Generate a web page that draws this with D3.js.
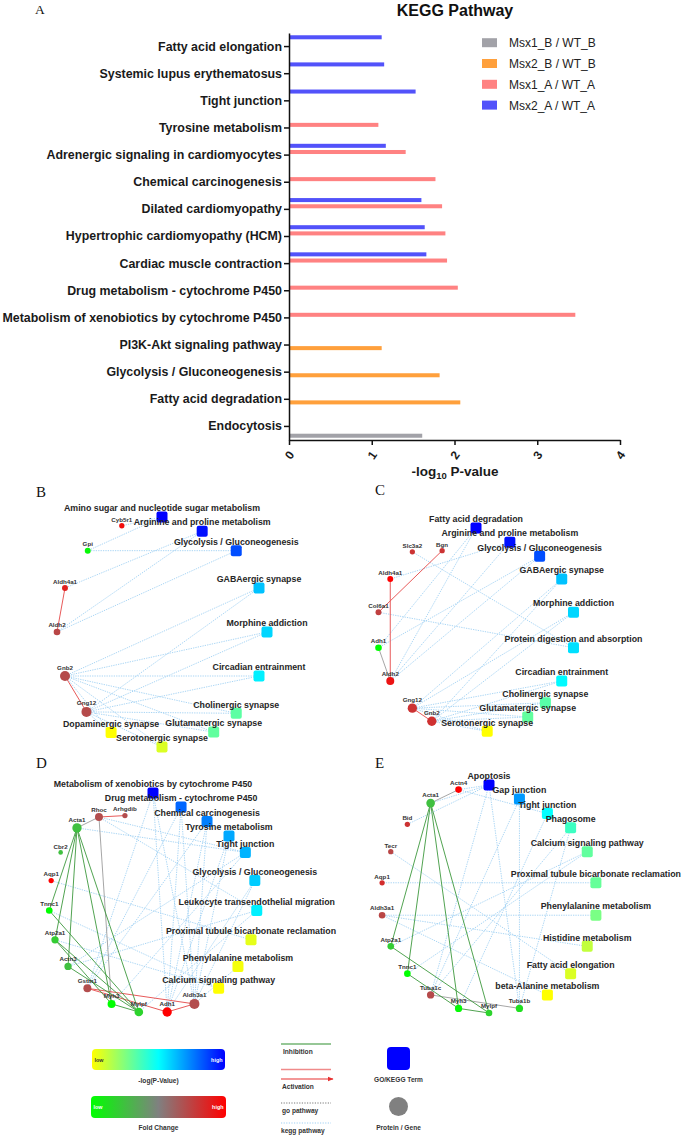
<!DOCTYPE html>
<html>
<head>
<meta charset="utf-8">
<script src="https://cdn.jsdelivr.net/npm/d3@7"></script>
<style>
body { margin: 0; background: #fff; }
svg { display: block; font-family: "Liberation Sans", Arial, sans-serif; }
</style>
</head>
<body>
<svg id="fig" width="685" height="1141"></svg>
<script>
// ---------- panel A : KEGG bar chart ----------
var categories = ["Fatty acid elongation", "Systemic lupus erythematosus", "Tight junction",
  "Tyrosine metabolism", "Adrenergic signaling in cardiomyocytes", "Chemical carcinogenesis",
  "Dilated cardiomyopathy", "Hypertrophic cardiomyopathy (HCM)", "Cardiac muscle contraction",
  "Drug metabolism - cytochrome P450", "Metabolism of xenobiotics by cytochrome P450",
  "PI3K-Akt signaling pathway", "Glycolysis / Gluconeogenesis", "Fatty acid degradation", "Endocytosis"];
var seriesNames = ["Msx1_B / WT_B", "Msx2_B / WT_B", "Msx1_A / WT_A", "Msx2_A / WT_A"];
var msx1B = [null, null, null, null, null, null, null, null, null, null, null, null, null, null, 1.61];
var msx2B = [null, null, null, null, null, null, null, null, null, null, null, 1.12, 1.82, 2.07, null];
var msx1A = [null, null, null, 1.08, 1.41, 1.77, 1.85, 1.89, 1.91, 2.04, 3.46, null, null, null, null];
var msx2A = [1.12, 1.15, 1.53, null, 1.17, null, 1.60, 1.64, 1.66, null, null, null, null, null, null];
var xTicks = [0, 1, 2, 3, 4];

// ---------- panel B ----------
var bTerms = ["Amino sugar and nucleotide sugar metabolism", "Arginine and proline metabolism",
  "Glycolysis / Gluconeogenesis", "GABAergic synapse", "Morphine addiction", "Circadian entrainment",
  "Cholinergic synapse", "Glutamatergic synapse", "Serotonergic synapse", "Dopaminergic synapse"];
var bTermScore = [1, 0.97, 0.85, 0.62, 0.58, 0.53, 0.32, 0.31, 0.07, 0];
var bGenes = ["Gng12", "Gnb2", "Aldh2", "Aldh4a1", "Gpi", "Cyb5r1"];
var bGeneFC = [0.42, 0.42, 0.45, 0.75, -0.95, 0.9];
var bKegg = [
  ["Amino sugar and nucleotide sugar metabolism", ["Cyb5r1", "Gpi"]],
  ["Arginine and proline metabolism", ["Aldh4a1", "Aldh2"]],
  ["Glycolysis / Gluconeogenesis", ["Gpi", "Aldh2"]],
  ["GABAergic synapse", ["Gnb2", "Gng12"]],
  ["Morphine addiction", ["Gnb2", "Gng12"]],
  ["Circadian entrainment", ["Gnb2", "Gng12"]],
  ["Cholinergic synapse", ["Gnb2", "Gng12"]],
  ["Glutamatergic synapse", ["Gnb2", "Gng12"]],
  ["Serotonergic synapse", ["Gnb2", "Gng12"]],
  ["Dopaminergic synapse", ["Gnb2", "Gng12"]]
];
var bActivation = [["Aldh4a1", "Aldh2"], ["Gnb2", "Gng12"]];
var bInhibition = [];
var bOther = [];

// ---------- panel C ----------
var cTerms = ["Fatty acid degradation", "Arginine and proline metabolism", "Glycolysis / Gluconeogenesis",
  "GABAergic synapse", "Morphine addiction", "Protein digestion and absorption", "Circadian entrainment",
  "Cholinergic synapse", "Glutamatergic synapse", "Serotonergic synapse"];
var cTermScore = [1, 0.97, 0.85, 0.62, 0.58, 0.56, 0.51, 0.33, 0.31, 0];
var cGenes = ["Gnb2", "Gng12", "Aldh2", "Adh1", "Col6a1", "Aldh4a1", "Slc3a2", "Bgn"];
var cGeneFC = [0.62, 0.6, 0.85, -1, 0.5, 1, 0.6, 0.6];
var cKegg = [
  ["Fatty acid degradation", ["Adh1", "Aldh2"]],
  ["Arginine and proline metabolism", ["Aldh4a1", "Aldh2"]],
  ["Glycolysis / Gluconeogenesis", ["Adh1", "Aldh2"]],
  ["GABAergic synapse", ["Gnb2", "Gng12"]],
  ["Morphine addiction", ["Gnb2", "Gng12"]],
  ["Protein digestion and absorption", ["Col6a1", "Slc3a2"]],
  ["Circadian entrainment", ["Gnb2", "Gng12"]],
  ["Cholinergic synapse", ["Gnb2", "Gng12"]],
  ["Glutamatergic synapse", ["Gnb2", "Gng12"]],
  ["Serotonergic synapse", ["Gnb2", "Gng12"]]
];
var cActivation = [["Bgn", "Col6a1"], ["Aldh4a1", "Aldh2"], ["Gng12", "Gnb2"]];
var cInhibition = [];
var cOther = [["Adh1", "Aldh2"]];

// ---------- panel D ----------
var dTerms = ["Metabolism of xenobiotics by cytochrome P450", "Drug metabolism - cytochrome P450",
  "Chemical carcinogenesis", "Tyrosine metabolism", "Tight junction", "Glycolysis / Gluconeogenesis",
  "Leukocyte transendothelial migration", "Proximal tubule bicarbonate reclamation",
  "Phenylalanine metabolism", "Calcium signaling pathway"];
var dTermScore = [1, 0.8, 0.75, 0.67, 0.65, 0.6, 0.53, 0.05, 0.02, 0];
var dGenes = ["Aldh3a1", "Adh1", "Mylpf", "Myh3", "Gstm1", "Actn3", "Atp2a1", "Tnnc1", "Aqp1",
  "Cbr2", "Acta1", "Rhoc", "Arhgdib"];
var dGeneFC = [0.4, 1, -0.65, -1, 0.4, -0.5, -0.6, -1, 1, -0.5, -0.5, 0.4, 0.4];
var dKegg = [
  ["Metabolism of xenobiotics by cytochrome P450", ["Gstm1", "Adh1", "Aldh3a1"]],
  ["Drug metabolism - cytochrome P450", ["Gstm1", "Adh1", "Aldh3a1"]],
  ["Chemical carcinogenesis", ["Gstm1", "Adh1", "Aldh3a1"]],
  ["Tyrosine metabolism", ["Adh1", "Aldh3a1"]],
  ["Tight junction", ["Acta1", "Actn3", "Myh3", "Rhoc"]],
  ["Glycolysis / Gluconeogenesis", ["Adh1", "Aldh3a1"]],
  ["Leukocyte transendothelial migration", ["Actn3", "Rhoc", "Mylpf"]],
  ["Proximal tubule bicarbonate reclamation", ["Aqp1"]],
  ["Phenylalanine metabolism", ["Aldh3a1"]],
  ["Calcium signaling pathway", ["Atp2a1", "Tnnc1"]]
];
var dActivation = [["Rhoc", "Arhgdib"], ["Gstm1", "Aldh3a1"], ["Gstm1", "Adh1"], ["Adh1", "Aldh3a1"]];
var dInhibition = [["Acta1", "Tnnc1"], ["Acta1", "Atp2a1"], ["Acta1", "Actn3"], ["Acta1", "Myh3"],
  ["Acta1", "Mylpf"], ["Tnnc1", "Mylpf"], ["Atp2a1", "Myh3"], ["Atp2a1", "Mylpf"],
  ["Actn3", "Mylpf"], ["Myh3", "Mylpf"]];
var dOther = [["Rhoc", "Acta1"], ["Rhoc", "Myh3"]];

// ---------- panel E ----------
var eTerms = ["Apoptosis", "Gap junction", "Tight junction", "Phagosome", "Calcium signaling pathway",
  "Proximal tubule bicarbonate reclamation", "Phenylalanine metabolism", "Histidine metabolism",
  "Fatty acid elongation", "beta-Alanine metabolism"];
var eTermScore = [1, 0.7, 0.5, 0.38, 0.31, 0.3, 0.26, 0.12, 0.07, 0];
var eGenes = ["Tuba1b", "Mylpf", "Myh3", "Tuba1c", "Tnnc1", "Atp2a1", "Aldh3a1", "Aqp1", "Tecr",
  "Bid", "Acta1", "Actn4"];
var eGeneFC = [-0.75, -0.65, -0.95, 0.42, -1, -0.6, 0.45, 0.65, 0.45, 0.6, -0.5, 1];
var eKegg = [
  ["Apoptosis", ["Actn4", "Bid", "Acta1", "Tuba1c", "Tuba1b"]],
  ["Gap junction", ["Tuba1c", "Tuba1b"]],
  ["Tight junction", ["Actn4", "Myh3"]],
  ["Phagosome", ["Tuba1c", "Tuba1b"]],
  ["Calcium signaling pathway", ["Atp2a1", "Tnnc1"]],
  ["Proximal tubule bicarbonate reclamation", ["Aqp1"]],
  ["Phenylalanine metabolism", ["Aldh3a1"]],
  ["Histidine metabolism", ["Aldh3a1"]],
  ["Fatty acid elongation", ["Tecr"]],
  ["beta-Alanine metabolism", ["Aldh3a1"]]
];
var eActivation = [];
var eInhibition = [["Acta1", "Atp2a1"], ["Acta1", "Tnnc1"], ["Acta1", "Myh3"], ["Acta1", "Mylpf"],
  ["Atp2a1", "Mylpf"], ["Tnnc1", "Myh3"], ["Myh3", "Mylpf"]];
var eOther = [["Acta1", "Actn4"], ["Tuba1c", "Tuba1b"]];

var svg = d3.select('#fig');
var seriesColor = d3.scaleOrdinal().domain(seriesNames).range(['#a2a2a8', '#ffa03c', '#ff8282', '#5252fa']);

// ---------------- panel A ----------------
var x = d3.scaleLinear().domain([0, 4]).range([289, 620]);
var y = d3.scaleBand().domain(categories).range([33, 440]);
// inside each row the bars run Msx2_A, Msx1_A, Msx2_B, Msx1_B from top to bottom
var inner = d3.scaleBand().domain(seriesNames.slice().reverse()).range([-11.3, 11.3]).paddingInner(0.35);

var allSeries = [msx1B, msx2B, msx1A, msx2A];
var bars = [];
allSeries.forEach(function(vals, si) {
  vals.forEach(function(v, ci) {
    if (v != null) bars.push({cat: categories[ci], s: seriesNames[si], v: v});
  });
});

var gA = svg.append('g');
gA.selectAll('rect.bar').data(bars).join('rect')
  .attr('class', 'bar')
  .attr('x', x(0))
  .attr('y', function(d) { return y(d.cat) + y.bandwidth() / 2 + inner(d.s); })
  .attr('width', function(d) { return x(d.v) - x(0); })
  .attr('height', inner.bandwidth())
  .attr('fill', function(d) { return seriesColor(d.s); });

var yAxis = gA.append('g').attr('transform', 'translate(' + x(0) + ',0)')
  .call(d3.axisLeft(y).tickSize(5).tickSizeOuter(0).tickPadding(2));
yAxis.selectAll('text').style('font', "bold 12.4px 'Liberation Sans', Arial, sans-serif").attr('fill', '#1a1a1a');

var xAxis = gA.append('g').attr('transform', 'translate(0,' + y.range()[1] + ')')
  .call(d3.axisBottom(x).tickValues(xTicks).tickFormat(d3.format('d')).tickSize(5).tickSizeOuter(0));
xAxis.selectAll('text')
  .attr('y', 0).attr('dy', '0.35em')
  .attr('transform', 'translate(0,15) rotate(-55)')
  .style('text-anchor', 'middle')
  .style('font', "bold 12px 'Liberation Sans', Arial, sans-serif").attr('fill', '#1a1a1a');
gA.selectAll('.domain, .tick line').attr('stroke', '#111').attr('stroke-width', 1.5);

gA.append('text').attr('x', 455).attr('y', 16).attr('text-anchor', 'middle')
  .style('font', "bold 16px 'Liberation Sans', Arial, sans-serif").attr('fill', '#111').text('KEGG Pathway');

var xl = gA.append('text').attr('x', 455).attr('y', 476).attr('text-anchor', 'middle')
  .style('font', "bold 13.5px 'Liberation Sans', Arial, sans-serif").attr('fill', '#1a1a1a');
xl.append('tspan').text('-log');
xl.append('tspan').attr('dy', 3).style('font-size', '9.5px').text('10');
xl.append('tspan').attr('dy', -3).text(' P-value');

var leg = gA.selectAll('g.leg').data(seriesNames).join('g')
  .attr('class', 'leg')
  .attr('transform', function(d, i) { return 'translate(482,' + (42.7 + i * 20.8) + ')'; });
leg.append('rect').attr('x', 0).attr('y', -4.5).attr('width', 15).attr('height', 9)
  .attr('fill', function(d) { return seriesColor(d); });
leg.append('text').attr('x', 27).attr('y', 4.5)
  .style('font', "12px 'Liberation Sans', Arial, sans-serif").attr('fill', '#222')
  .text(function(d) { return d; });

// ---------------- networks ----------------
var termColor = d3.scaleLinear().domain([0, 0.5, 1]).range(['#ffff00', '#00ffff', '#0000ff']);
var fcColor = d3.scaleLinear().domain([-1, 0, 1]).range(['#00ff00', '#808080', '#ff0000']);
var nodeR = d3.scaleLinear().domain([0, 8]).range([2.3, 5]).clamp(true);
var TERM_FONT = "bold 8.8px 'Liberation Sans', Arial, sans-serif";
var GENE_FONT = "bold 6.2px 'Liberation Sans', Arial, sans-serif";
var ctx = document.createElement('canvas').getContext('2d');
function textWidth(str, font) { ctx.font = font; return ctx.measureText(str).width; }
function hit(a, b) { return a[0] < b[2] && b[0] < a[2] && a[1] < b[3] && b[1] < a[3]; }
function norm(a) { return ((a % 360) + 360) % 360; }

function drawNetwork(terms, termScore, genes, geneFC, kegg, activation, inhibition, other, L) {
  var g = svg.append('g');
  var nodes = terms.map(function(t, i) { return {id: t, type: 'term', v: termScore[i]}; })
    .concat(genes.map(function(t, i) { return {id: t, type: 'gene', v: geneFC[i]}; }));
  var byId = {};
  nodes.forEach(function(d) { byId[d.id] = d; d.deg = 0; d.dy = 0; });

  var links = [];
  kegg.forEach(function(k) { k[1].forEach(function(gn) { links.push({s: k[0], t: gn, kind: 'kegg'}); }); });
  other.forEach(function(e) { links.push({s: e[0], t: e[1], kind: 'other'}); });
  activation.forEach(function(e) { links.push({s: e[0], t: e[1], kind: 'act'}); });
  inhibition.forEach(function(e) { links.push({s: e[0], t: e[1], kind: 'inh'}); });
  links.forEach(function(l) { byId[l.s].deg++; byId[l.t].deg++; });

  nodes.forEach(function(d) {
    d.r = d.type == 'term' ? 5.5 : nodeR(d.deg);
    d.font = d.type == 'term' ? TERM_FONT : GENE_FONT;
    d.w = textWidth(d.id, d.font);
  });

  // circular layout, clockwise from the top
  var angle = d3.scaleLinear().domain([0, nodes.length]).range([0, 360]);
  function place(d, a) {
    d.a = a;
    var rad = a * Math.PI / 180;
    d.x = L.cx + L.rx * Math.sin(rad);
    d.y = L.cy - L.ry * Math.cos(rad) + d.dy;
    if (d.type == 'term') {
      d.base = d.y - d.r - 0.3;
      d.box = [d.x - d.w / 2, d.base - 9.5, d.x + d.w / 2, d.base + 4.5];
    } else {
      d.base = d.y - d.r - 1.5;
      var half = Math.max(d.w / 2, d.r);
      d.box = [d.x - half, d.base - 5.5, d.x + half, d.y + d.r];
    }
  }
  function drop(d, dy) { d.dy += dy; place(d, d.a); }
  nodes.forEach(function(d, i) { place(d, angle(i)); });

  // nudge nodes until labels stop overlapping
  var step = 0.5;
  var lowHalf = function(d) { var a = norm(d.a); return a > 90 && a < 270; };
  for (var pass = 0; pass < 800; pass++) {
    var moved = false;
    for (var i = 0; i < nodes.length; i++) {
      for (var j = i + 1; j < nodes.length; j++) {
        var p = nodes[i], q = nodes[j];
        if (!hit(p.box, q.box)) continue;
        moved = true;
        if (p.type == 'term' && q.type == 'term') {
          var qLower = q.base > p.base;
          if (qLower && q.a < 90) drop(q, step);
          else if (qLower && p.a < 180) place(p, p.a - step);
          else place(q, q.a + step);
        } else if (p.type == 'term' && !lowHalf(q) && q.base > p.base) {
          // a gene near the top slips below the pathway label
          drop(q, step);
        } else {
          var diff = norm(q.a - p.a + 180) - 180;
          var sgn = diff >= 0 ? 1 : -1;
          if (p.type == 'gene' || lowHalf(p)) place(p, p.a - sgn * step);
          if (q.type == 'gene' || lowHalf(q)) place(q, q.a + sgn * step);
        }
      }
    }
    if (!moved) break;
  }

  var styles = {
    kegg: {stroke: '#9fd0f3', width: 0.9, dash: '1.3 1.1'},
    other: {stroke: '#9c9c9c', width: 0.9, dash: null},
    act: {stroke: '#e85a5a', width: 1, dash: null},
    inh: {stroke: '#3d993d', width: 0.9, dash: null}
  };
  ['kegg', 'other', 'act', 'inh'].forEach(function(kind) {
    var st = styles[kind];
    g.selectAll('line.' + kind).data(links.filter(function(l) { return l.kind == kind; })).join('line')
      .attr('class', kind)
      .attr('x1', function(l) { return byId[l.s].x; })
      .attr('y1', function(l) { return byId[l.s].y; })
      .attr('x2', function(l) { return byId[l.t].x; })
      .attr('y2', function(l) { return byId[l.t].y; })
      .attr('stroke', st.stroke).attr('stroke-width', st.width)
      .attr('stroke-dasharray', st.dash);
  });

  var tn = nodes.filter(function(d) { return d.type == 'term'; });
  g.selectAll('rect.term').data(tn).join('rect')
    .attr('class', 'term')
    .attr('x', function(d) { return d.x - 5.5; }).attr('y', function(d) { return d.y - 5.5; })
    .attr('width', 11).attr('height', 11).attr('rx', 2)
    .attr('fill', function(d) { return termColor(d.v); });
  g.selectAll('circle.gene').data(nodes.filter(function(d) { return d.type == 'gene'; })).join('circle')
    .attr('class', 'gene')
    .attr('cx', function(d) { return d.x; }).attr('cy', function(d) { return d.y; })
    .attr('r', function(d) { return d.r; })
    .attr('fill', function(d) { return fcColor(d.v); });
  g.selectAll('text.lab').data(nodes).join('text')
    .attr('class', 'lab')
    .attr('x', function(d) { return d.x; }).attr('y', function(d) { return d.base; })
    .attr('text-anchor', 'middle')
    .style('font', function(d) { return d.font; })
    .attr('fill', function(d) { return d.type == 'term' ? '#262626' : '#333'; })
    .text(function(d) { return d.id; });
}

drawNetwork(bTerms, bTermScore, bGenes, bGeneFC, bKegg, bActivation, bInhibition, bOther,
  {cx: 162, cy: 632, rx: 105, ry: 115});
drawNetwork(cTerms, cTermScore, cGenes, cGeneFC, cKegg, cActivation, cInhibition, cOther,
  {cx: 476, cy: 630, rx: 99, ry: 102});
drawNetwork(dTerms, dTermScore, dGenes, dGeneFC, dKegg, dActivation, dInhibition, dOther,
  {cx: 153, cy: 903, rx: 104, ry: 110});
drawNetwork(eTerms, eTermScore, eGenes, eGeneFC, eKegg, eActivation, eInhibition, eOther,
  {cx: 489, cy: 899, rx: 108, ry: 114});

// panel letters
var letters = [["A", 35, 13.5, 13.5], ["B", 36, 497, 15], ["C", 375, 495, 15], ["D", 36, 768, 15], ["E", 375, 768, 15]];
svg.selectAll('text.letter').data(letters).join('text')
  .attr('class', 'letter')
  .attr('x', function(d) { return d[1]; }).attr('y', function(d) { return d[2]; })
  .style('font', function(d) { return d[3] + "px 'Liberation Serif', 'Times New Roman', serif"; })
  .attr('fill', '#111')
  .text(function(d) { return d[0]; });

// ---------------- bottom legend ----------------
var defs = svg.append('defs');
function gradient(id, stops) {
  var gr = defs.append('linearGradient').attr('id', id);
  stops.forEach(function(c, i) {
    gr.append('stop').attr('offset', (i / (stops.length - 1) * 100) + '%').attr('stop-color', c);
  });
}
gradient('gradP', termColor.range());
gradient('gradF', fcColor.range());
defs.append('marker').attr('id', 'arrow').attr('viewBox', '0 0 10 10').attr('refX', 9).attr('refY', 5)
  .attr('markerWidth', 5).attr('markerHeight', 5).attr('orient', 'auto')
  .append('path').attr('d', 'M0,1 L10,5 L0,9 Z').attr('fill', '#e83030');

var gL = svg.append('g');
var small = "bold 6.6px 'Liberation Sans', Arial, sans-serif";
var tiny = "bold 5.4px 'Liberation Sans', Arial, sans-serif";
gL.append('rect').attr('x', 92).attr('y', 1049).attr('width', 133).attr('height', 21).attr('rx', 4).attr('fill', 'url(#gradP)');
gL.append('text').attr('x', 94.5).attr('y', 1061.5).style('font', tiny).attr('fill', '#333').text('low');
gL.append('text').attr('x', 222.5).attr('y', 1061.5).attr('text-anchor', 'end').style('font', tiny).attr('fill', '#fff').text('high');
gL.append('text').attr('x', 158.5).attr('y', 1083).attr('text-anchor', 'middle').style('font', small).attr('fill', '#333').text('-log(P-Value)');
gL.append('rect').attr('x', 91).attr('y', 1096).attr('width', 135).attr('height', 22).attr('rx', 4).attr('fill', 'url(#gradF)');
gL.append('text').attr('x', 93.5).attr('y', 1109).style('font', tiny).attr('fill', '#fff').text('low');
gL.append('text').attr('x', 223.5).attr('y', 1109).attr('text-anchor', 'end').style('font', tiny).attr('fill', '#fff').text('high');
gL.append('text').attr('x', 158.5).attr('y', 1130).attr('text-anchor', 'middle').style('font', small).attr('fill', '#333').text('Fold Change');

gL.append('line').attr('x1', 281).attr('x2', 331).attr('y1', 1044).attr('y2', 1044).attr('stroke', '#2f8f2f').attr('stroke-width', 1.2);
gL.append('text').attr('x', 283).attr('y', 1054).style('font', small).attr('fill', '#333').text('Inhibition');
gL.append('line').attr('x1', 281).attr('x2', 331).attr('y1', 1069.5).attr('y2', 1069.5).attr('stroke', '#f08a8a').attr('stroke-width', 1.6);
gL.append('line').attr('x1', 281).attr('x2', 333).attr('y1', 1079).attr('y2', 1079).attr('stroke', '#e83030').attr('stroke-width', 1.2).attr('marker-end', 'url(#arrow)');
gL.append('text').attr('x', 282).attr('y', 1089).style('font', small).attr('fill', '#333').text('Activation');
gL.append('line').attr('x1', 281).attr('x2', 331).attr('y1', 1103).attr('y2', 1103).attr('stroke', '#777').attr('stroke-width', 1).attr('stroke-dasharray', '1.2 1.4');
gL.append('text').attr('x', 282).attr('y', 1113).style('font', small).attr('fill', '#333').text('go pathway');
gL.append('line').attr('x1', 281).attr('x2', 331).attr('y1', 1123).attr('y2', 1123).attr('stroke', '#9fd0f3').attr('stroke-width', 1.2).attr('stroke-dasharray', '1.2 1.4');
gL.append('text').attr('x', 281).attr('y', 1133).style('font', small).attr('fill', '#333').text('kegg pathway');

gL.append('rect').attr('x', 387).attr('y', 1047).attr('width', 23).attr('height', 23).attr('rx', 4).attr('fill', '#0000ff');
gL.append('text').attr('x', 398.5).attr('y', 1082).attr('text-anchor', 'middle').style('font', small).attr('fill', '#333').text('GO/KEGG Term');
gL.append('circle').attr('cx', 398.5).attr('cy', 1106.5).attr('r', 9.5).attr('fill', '#808080');
gL.append('text').attr('x', 398.5).attr('y', 1130).attr('text-anchor', 'middle').style('font', small).attr('fill', '#333').text('Protein / Gene');
</script>
</body>
</html>
